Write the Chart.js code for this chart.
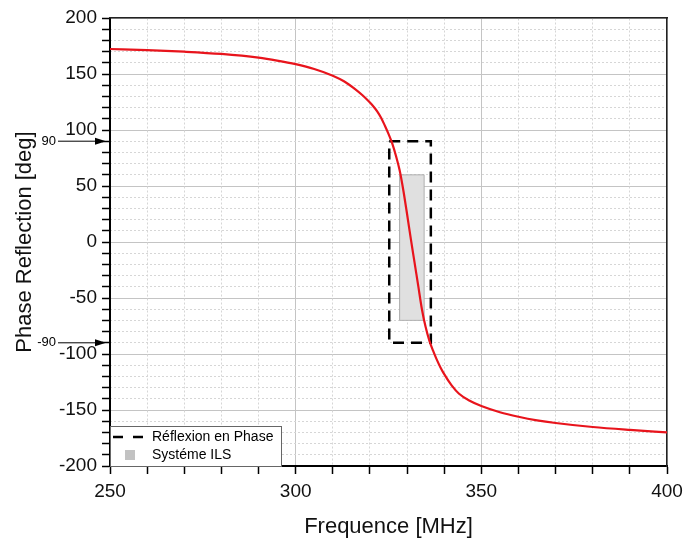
<!DOCTYPE html>
<html>
<head>
<meta charset="utf-8">
<script src="https://cdn.jsdelivr.net/npm/chart.js@4.4.0/dist/chart.umd.min.js"></script>
<style>
  html, body { margin: 0; padding: 0; background: #fff; }
  canvas { display: block; }
</style>
</head>
<body>
<canvas id="phase" width="685" height="540"></canvas>
<script>
// values
const freqMHz = [250, 260, 270, 280, 290, 295, 300, 305, 310, 313, 316, 318, 320, 321, 322, 323, 324, 325, 326, 327, 328, 329, 330, 331, 332, 333, 334, 335, 336, 337, 338, 339, 340, 342, 344, 347, 350, 355, 360, 365, 370, 380, 390, 400];
const phaseDeg = [172.3, 171.3, 169.9, 167.9, 164.6, 162, 158.8, 154.5, 148.5, 143.5, 136.5, 131, 124.5, 120.8, 116.5, 111, 104, 96.5, 88, 77, 64, 46, 25, 3, -18, -39, -60, -76, -88, -97, -105, -112, -118, -128, -135.5, -142, -146.5, -152, -156, -159.2, -161.6, -165.2, -167.8, -170];

// dashed window "Réflexion en Phase"
const reflexFreq = [325.2, 336.4, 336.4, 325.2, 325.2];
const reflexPhase = [90, 90, -90, -90, 90];

// grey band "Systéme ILS"
const ilsFreq = [328, 334.6, 334.6, 328, 328];
const ilsPhase = [60, 60, -70, -70, 60];

// side arrows at +/-90
const markerValues = [90, -90];
const markerLabels = ['90', '-90'];

const legendLabels = ['Réflexion en Phase', 'Systéme ILS'];
const xTitle = 'Frequence [MHz]';
const yTitle = 'Phase Reflection [deg]';

const FONT = '"Liberation Sans", Arial, sans-serif';

const toPoints = (xs, ys) => xs.map((x, i) => ({ x: x, y: ys[i] }));

// legend box + the 90 / -90 arrows, drawn on top
const extras = {
  id: 'extras',
  afterDraw(chart) {
    const { ctx, chartArea, scales } = chart;
    ctx.save();

    // arrows on the left of the y axis
    ctx.fillStyle = '#000';
    ctx.strokeStyle = '#000';
    ctx.lineWidth = 1;
    ctx.font = '13px ' + FONT;
    ctx.textAlign = 'right';
    ctx.textBaseline = 'middle';
    markerValues.forEach((v, i) => {
      const y = scales.y.getPixelForValue(v);
      const tip = chartArea.left - 4;
      ctx.fillText(markerLabels[i], 56, y);
      ctx.beginPath();
      ctx.moveTo(58, y);
      ctx.lineTo(tip - 6, y);
      ctx.stroke();
      ctx.beginPath();
      ctx.moveTo(tip, y);
      ctx.lineTo(tip - 11, y - 3.5);
      ctx.lineTo(tip - 11, y + 3.5);
      ctx.closePath();
      ctx.fill();
    });

    // legend in the bottom-left corner of the plot
    const bx = chartArea.left, bw = 171, bh = 40;
    const by = chartArea.bottom - bh;
    ctx.fillStyle = '#fff';
    ctx.fillRect(bx, by, bw, bh);
    ctx.strokeStyle = '#666';
    ctx.lineWidth = 1;
    ctx.strokeRect(bx + 0.5, by + 0.5, bw, bh);

    const row1 = by + 11, row2 = by + 29;
    ctx.strokeStyle = '#000';
    ctx.lineWidth = 2.5;
    ctx.setLineDash([10, 10]);
    ctx.beginPath();
    ctx.moveTo(bx + 3, row1);
    ctx.lineTo(bx + 34, row1);
    ctx.stroke();
    ctx.setLineDash([]);

    ctx.fillStyle = '#c2c2c2';
    ctx.fillRect(bx + 15, row2 - 5, 10, 10);

    ctx.fillStyle = '#000';
    ctx.font = '14px ' + FONT;
    ctx.textAlign = 'left';
    ctx.fillText(legendLabels[0], bx + 42, row1);
    ctx.fillText(legendLabels[1], bx + 42, row2);

    ctx.restore();
  }
};

const majorOnly = (c) => (Math.round(c.tick.value) % 50 === 0 ? '#c4c4c4' : 'rgba(0,0,0,0)');
const minorOnly = (c) => (Math.round(c.tick.value) % 50 === 0 ? 'rgba(0,0,0,0)' : '#d6d6d6');

new Chart(document.getElementById('phase'), {
  type: 'line',
  data: {
    datasets: [
      {
        label: 'Phase',
        data: toPoints(freqMHz, phaseDeg),
        borderColor: '#e8141c',
        borderWidth: 2.2,
        pointRadius: 0,
        cubicInterpolationMode: 'monotone',
        fill: false,
        order: 0,
      },
      {
        label: legendLabels[0],
        data: toPoints(reflexFreq, reflexPhase),
        borderColor: '#000',
        borderWidth: 2.5,
        borderDash: [11, 7],
        pointRadius: 0,
        tension: 0,
        fill: false,
        order: 1,
      },
      {
        label: legendLabels[1],
        data: toPoints(ilsFreq, ilsPhase),
        borderColor: '#a8a8a8',
        borderWidth: 1,
        borderDash: [1, 0],
        backgroundColor: '#e0e0e0',
        pointRadius: 0,
        tension: 0,
        fill: 'shape',
        order: 2,
      },
    ],
  },
  options: {
    responsive: false,
    animation: false,
    layout: { padding: { left: 0, top: 18, right: 18, bottom: 0 } },
    plugins: {
      legend: { display: false },
      tooltip: { enabled: false },
    },
    scales: {
      x: {
        type: 'linear',
        position: 'bottom',
        min: 250,
        max: 400,
        afterFit: (s) => { s.height = 74; s.paddingLeft = 0; s.paddingRight = 0; },
        ticks: {
          stepSize: 10,
          autoSkip: false,
          maxRotation: 0,
          minRotation: 0,
          padding: 6,
          color: '#111',
          font: { family: FONT, size: 19 },
          callback: (v) => (v % 50 === 0 ? String(v) : ''),
        },
        grid: { z: -1, color: majorOnly, tickColor: '#000', tickWidth: 1.5, tickLength: 8, lineWidth: 1 },
        border: { color: '#000', width: 2 },
        title: { display: true, text: xTitle, color: '#111', font: { family: FONT, size: 22 }, padding: 0 },
      },
      y: {
        type: 'linear',
        position: 'left',
        min: -200,
        max: 200,
        afterFit: (s) => { s.width = 110; s.paddingTop = 0; s.paddingBottom = 0; },
        ticks: {
          stepSize: 10,
          autoSkip: false,
          padding: 5,
          color: '#111',
          font: { family: FONT, size: 19 },
          callback: (v) => (v % 50 === 0 ? String(v) : ''),
        },
        grid: { z: -1, color: majorOnly, tickColor: '#000', tickWidth: 1.5, tickLength: 8, lineWidth: 1 },
        border: { color: '#000', width: 2 },
        title: { display: true, text: yTitle, color: '#111', font: { family: FONT, size: 22 }, padding: { top: 12, bottom: 0 } },
      },
      // minor dotted grid, also gives the top / right frame
      x2: {
        type: 'linear',
        position: 'top',
        min: 250,
        max: 400,
        afterFit: (s) => { s.height = 0; s.paddingLeft = 0; s.paddingRight = 0; },
        ticks: { stepSize: 10, display: false },
        grid: { z: -1, color: minorOnly, drawTicks: false, lineWidth: 1 },
        border: { color: '#222', width: 1.5, dash: [2, 2] },
      },
      y2: {
        type: 'linear',
        position: 'right',
        min: -200,
        max: 200,
        afterFit: (s) => { s.width = 0; s.paddingTop = 0; s.paddingBottom = 0; },
        ticks: { stepSize: 10, display: false },
        grid: { z: -1, color: minorOnly, drawTicks: false, lineWidth: 1 },
        border: { color: '#222', width: 1.5, dash: [2, 2] },
      },
    },
  },
  plugins: [extras],
});
</script>
</body>
</html>
